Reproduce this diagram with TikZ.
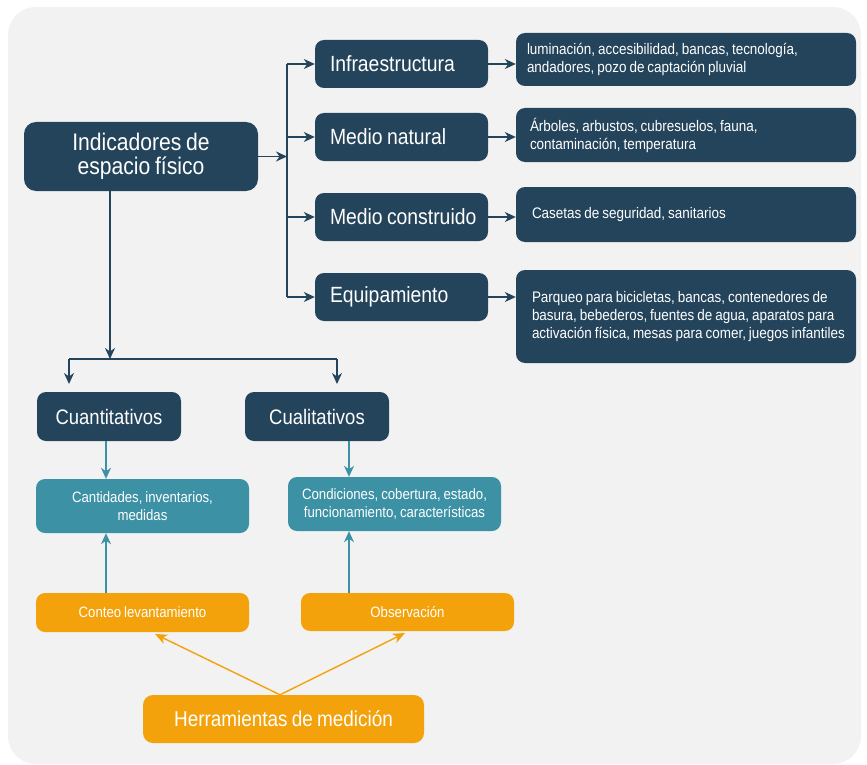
\documentclass[tikz,border=0pt]{standalone}
\usepackage{fontspec}
\setmainfont[FakeStretch=0.88,WordSpace={0.8,0,0.3}]{Liberation Sans}
\usetikzlibrary{arrows.meta}
\definecolor{dk}{HTML}{24445B}
\definecolor{tl}{HTML}{3C91A4}
\definecolor{og}{HTML}{F3A20B}
\definecolor{bgc}{HTML}{F2F2F2}
\hyphenpenalty=10000
\exhyphenpenalty=10000
\tikzset{
  x=1pt,y=-1pt,
  box/.style={rounded corners=9pt, inner sep=0pt, text=white, align=center},
  dkbox/.style={box, fill=dk},
  tlbox/.style={box, fill=tl, font=\fontsize{15}{18}\selectfont},
  ogbox/.style={box, fill=og},
  desc/.style={dkbox, align=flush left, inner xsep=9pt, text width=322pt, minimum width=340pt, font=\fontsize{15.3}{18}\selectfont},
  cat/.style={dkbox, minimum width=173pt, minimum height=48pt, align=flush left, text width=163pt, inner xsep=5pt, font=\fontsize{22}{24}\selectfont},
  darr/.style={draw=dk, line width=1.4pt, -{Stealth[length=11pt,width=10pt,inset=3.5pt]}},
  dline/.style={draw=dk, line width=1.4pt},
  tarr/.style={draw=tl, line width=1.4pt, -{Stealth[length=11pt,width=10pt,inset=3.5pt]}},
  oarr/.style={draw=og, line width=1.4pt, -{Stealth[length=12pt,width=10pt,inset=3.5pt]}},
}
\begin{document}
\begin{tikzpicture}
\useasboundingbox (0,0) rectangle (867,765);
\fill[white] (0,0) rectangle (867,765);
\fill[bgc, rounded corners=28pt] (8,7) rectangle (861,764);

% main
\node[dkbox, rounded corners=12pt, minimum width=234pt, minimum height=69pt, font=\fontsize{24}{24}\selectfont] (main) at (141,156.5) {Indicadores de\\espacio físico};

% categories
\node[cat] (infra) at (401.5,64) {\hspace*{10pt}Infraestructura};
\node[cat] (nat) at (401.5,137) {\hspace*{10pt}Medio natural};
\node[cat] (cons) at (401.5,217) {\hspace*{10pt}Medio construido};
\node[cat] (equip) at (401.5,297) {\hspace*{10pt}Equipamiento};

% descriptions
\node[desc, minimum height=53pt] (d1) at (686,59.5) {\hspace*{2pt}luminación, accesibilidad, bancas, tecnología,\\\hspace*{2pt}andadores, pozo de captación pluvial};
\node[desc, minimum height=54pt] (d2) at (686,135) {\hspace*{5pt}Árboles, arbustos, cubresuelos, fauna,\\\hspace*{5pt}contaminación, temperatura};
\node[desc, minimum height=55pt] (d3) at (686,214.5) {\hspace*{7pt}Casetas de seguridad, sanitarios};
\node[desc, minimum height=93pt] (d4) at (686,316.5) {\hspace*{7pt}Parqueo para bicicletas, bancas, contenedores de\\\hspace*{7pt}basura, bebederos, fuentes de agua, aparatos para\\\hspace*{7pt}activación física, mesas para comer, juegos infantiles};

% trunk
\coordinate (tr) at (287,156.5);
\coordinate (trtop) at (287,64);
\coordinate (trbot) at (287,297);
\draw[dline] (trtop) -- (trbot);
\draw[darr] (main.east) -- (tr);
\draw[darr] (infra.west -| tr) -- (infra.west);
\draw[darr] (nat.west -| tr) -- (nat.west);
\draw[darr] (cons.west -| tr) -- (cons.west);
\draw[darr] (equip.west -| tr) -- (equip.west);
\draw[darr] (infra.east) -- (infra.east -| d1.west);
\draw[darr] (nat.east) -- (nat.east -| d2.west);
\draw[darr] (cons.east) -- (cons.east -| d3.west);
\draw[darr] (equip.east) -- (equip.east -| d4.west);

% lower dark
\node[dkbox, minimum width=144pt, minimum height=49pt, font=\fontsize{21}{24}\selectfont] (cuan) at (109,416.5) {Cuantitativos};
\node[dkbox, minimum width=144pt, minimum height=49pt, font=\fontsize{21}{24}\selectfont] (cual) at (317,416.5) {Cualitativos};

\coordinate (sp) at (110,359);
\coordinate (spl) at (69,359);
\coordinate (spr) at (337,359);
\coordinate (el) at (69,384);
\coordinate (er) at (337,384);
\draw[darr] (main.south -| sp) -- (sp);
\draw[dline] (spl) -- (spr);
\draw[darr] (spl) -- (el);
\draw[darr] (spr) -- (er);

% teal
\node[tlbox, minimum width=213pt, minimum height=54pt] (cant) at (142.5,506) {Cantidades, inventarios,\\medidas};
\node[tlbox, minimum width=213pt, minimum height=54pt] (cond) at (394.5,504) {Condiciones, cobertura, estado,\\funcionamiento, características};

\coordinate (tx1) at (106,0);
\coordinate (tx2) at (349,0);
\draw[tarr] (cuan.south -| tx1) -- (cant.north -| tx1);
\draw[tarr] (cual.south -| tx2) -- (cond.north -| tx2);

% orange
\node[ogbox, minimum width=213pt, minimum height=39pt, font=\fontsize{15}{18}\selectfont] (conteo) at (142.5,612.5) {Conteo levantamiento};
\node[ogbox, minimum width=213pt, minimum height=38pt, font=\fontsize{15}{18}\selectfont] (obs) at (407.5,612) {Observación};
\draw[tarr] (conteo.north -| tx1) -- (cant.south -| tx1);
\draw[tarr] (obs.north -| tx2) -- (cond.south -| tx2);

\node[ogbox, rounded corners=10pt, minimum width=281pt, minimum height=48pt, font=\fontsize{21.5}{24}\selectfont] (herr) at (283.5,719) {Herramientas de medición};
\coordinate (hp) at (280,694.5);
\coordinate (c1) at (155,634);
\coordinate (c2) at (405,633);
\draw[oarr] (herr.north -| hp) -- (c1);
\draw[oarr] (herr.north -| hp) -- (c2);
\end{tikzpicture}
\end{document}
